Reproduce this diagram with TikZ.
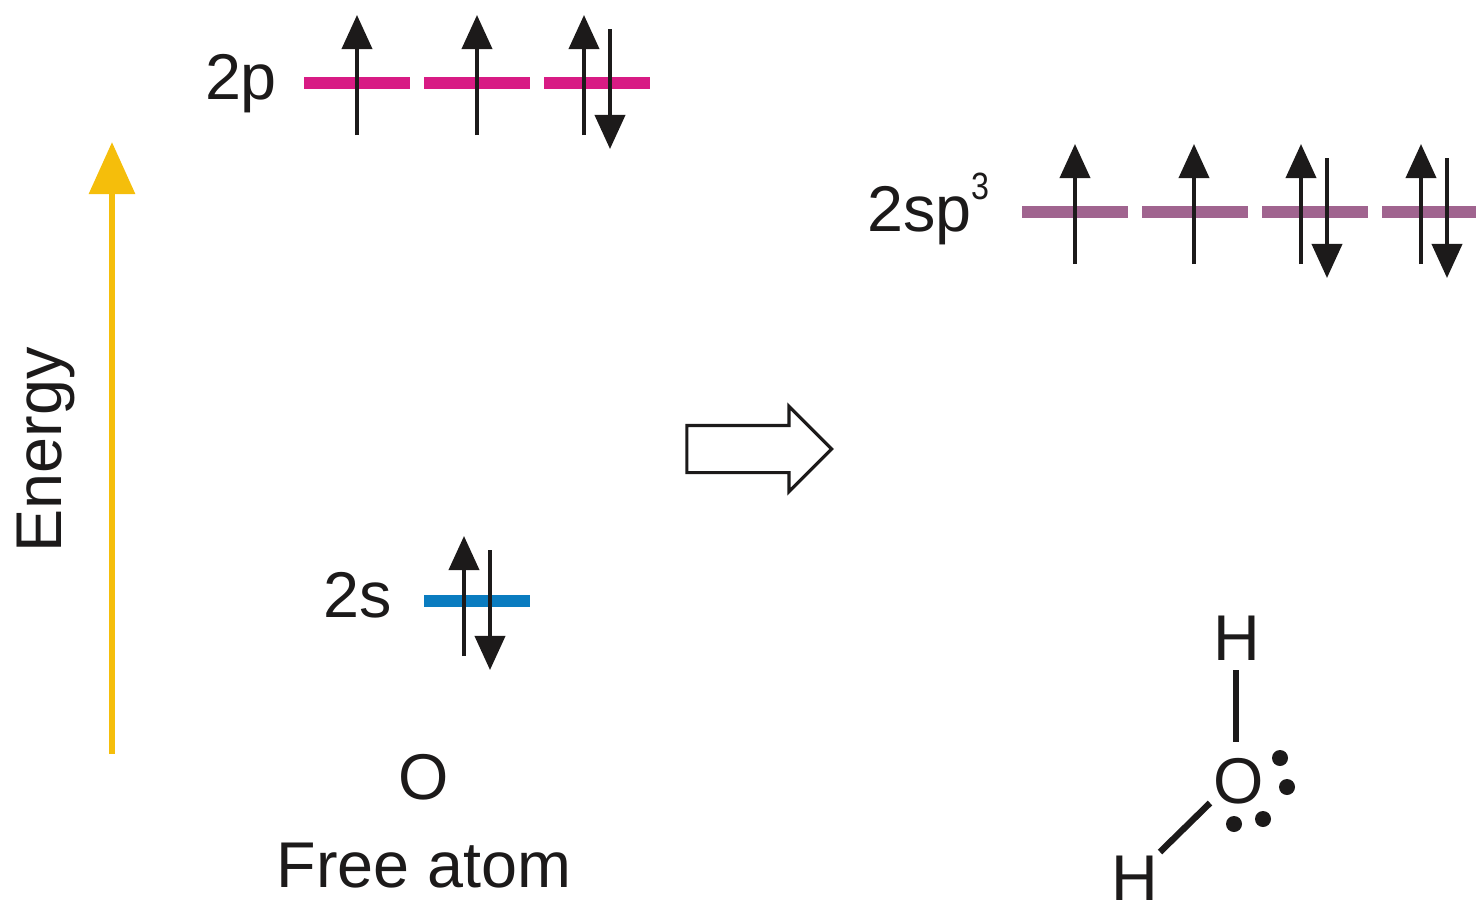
\documentclass[tikz,border=0pt]{standalone}
\usepackage{fontspec}
\setmainfont{Liberation Sans}
\usetikzlibrary{arrows.meta,shapes.arrows}
\definecolor{pk}{HTML}{D81B84}
\definecolor{pu}{HTML}{A0648F}
\definecolor{bl}{HTML}{0A7CC0}
\definecolor{yl}{HTML}{F5BE0B}
\definecolor{ink}{HTML}{1C1A1A}
\tikzset{x=0.025cm,y=-0.025cm,
 lev/.style={line width=0.3cm},
 spin/.style={draw=ink,line width=0.095cm,-{Triangle[length=0.85cm,width=0.75cm]}},
 lab/.style={inner sep=0pt,text=ink,font=\fontsize{46}{46}\selectfont},
 bond/.style={draw=ink,line width=0.16cm},
 dot/.style={circle,fill=ink,inner sep=0pt,minimum size=0.4cm}}
\newcommand{\up}[3]{\coordinate (#3a) at (#1,#2+52);\coordinate (#3b) at (#1,#2-68);\draw[spin] (#3a) -- (#3b);}
\newcommand{\dn}[3]{\coordinate (#3a) at (#1,#2-54);\coordinate (#3b) at (#1,#2+66);\draw[spin] (#3a) -- (#3b);}
\begin{document}
\begin{tikzpicture}
\useasboundingbox (0,0) rectangle (1476,902);
% levels
\foreach \n/\a in {p1/304,p2/424,p3/544}{
 \coordinate (\n l) at (\a,83);\coordinate (\n r) at (\a+106,83);
 \draw[lev,pk] (\n l) -- (\n r);}
\foreach \n/\a in {h1/1022,h2/1142,h3/1262,h4/1382}{
 \coordinate (\n l) at (\a,212);\coordinate (\n r) at (\a+106,212);
 \draw[lev,pu] (\n l) -- (\n r);}
\coordinate (sl) at (424,601);\coordinate (sr) at (530,601);
\draw[lev,bl] (sl) -- (sr);
% spins
\up{357}{83}{a}\up{477}{83}{b}\up{584}{83}{c}\dn{610}{83}{d}
\up{1075}{212}{e}\up{1194}{212}{f}\up{1301}{212}{g}\dn{1327}{212}{h}
\up{1421}{212}{i}\dn{1447}{212}{j}
\up{464}{604}{k}\dn{490}{604}{l}
% energy
\coordinate (e1) at (112,754);\coordinate (e2) at (112,142);
\draw[yl,line width=0.17cm,-{Triangle[length=1.3cm,width=1.12cm]}] (e1) -- (e2);
\node[lab,rotate=90] (en) at (46,450) {Energy};
% labels
\node[lab] (l2p) at (241,84) {2p};
\node[lab] (l2s) at (358,595) {2s};
\node[lab,anchor=west] (lsp) at (867,216) {2sp};
\node[inner sep=0pt,text=ink,xscale=0.85,font=\fontsize{27}{27}\selectfont] (l3) at (980,186) {3};
\node[lab] (lo) at (424,777) {O};
\node[lab] (fa) at (424,866) {Free atom};
% block arrow
\node[draw=ink,line width=0.08cm,fill=white,single arrow,single arrow head extend=0.48cm,single arrow head indent=0pt,shape border rotate=0,minimum height=3.62cm,minimum width=2.05cm,inner xsep=0pt,inner ysep=0.55cm] (ba) at (747.5,449) {};
% water
\node[lab] (h1) at (1237,638) {H};
\node[lab] (o) at (1239,781) {O};
\node[lab] (h2) at (1135,878) {H};
\coordinate (b1a) at (1236,670);\coordinate (b1b) at (1236,742);
\draw[bond] (b1a) -- (b1b);
\coordinate (b2a) at (1160,852);\coordinate (b2b) at (1210,803);
\draw[bond] (b2a) -- (b2b);
\node[dot] (d1) at (1280,758) {};
\node[dot] (d2) at (1287,787) {};
\node[dot] (d3) at (1263,819) {};
\node[dot] (d4) at (1234,824) {};
\end{tikzpicture}
\end{document}
